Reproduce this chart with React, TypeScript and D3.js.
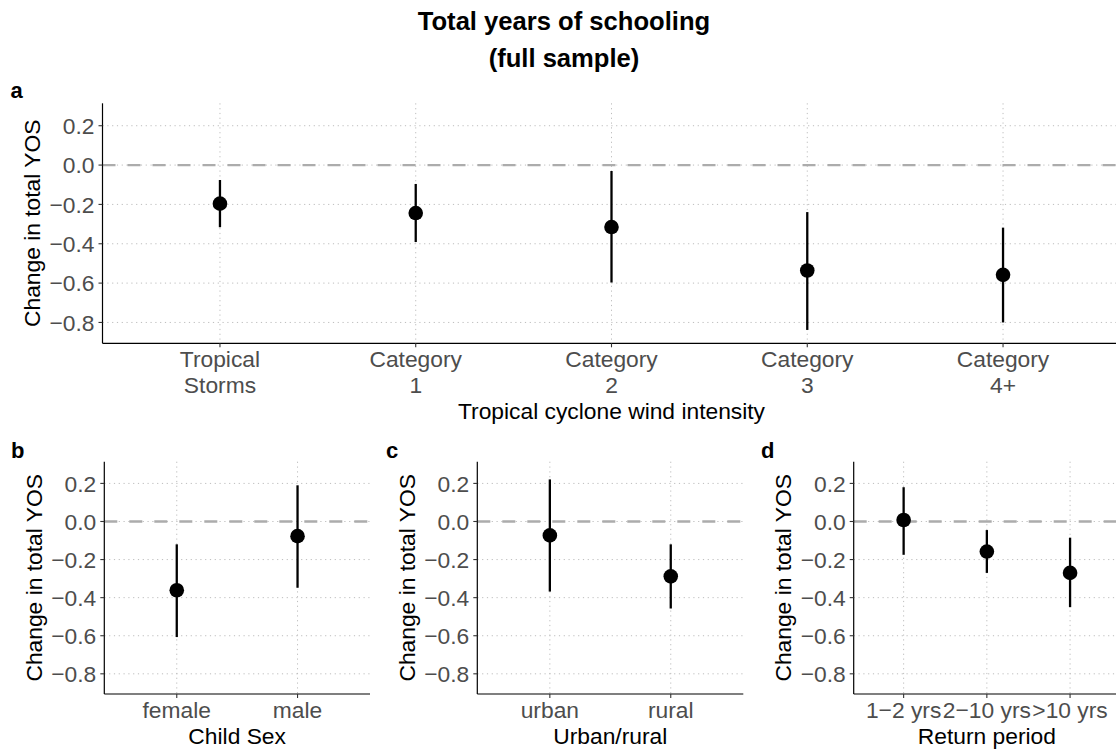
import React from "react";
import * as d3 from "d3";

// ---------- data ----------
const catsA = ["Tropical\nStorms", "Category\n1", "Category\n2", "Category\n3", "Category\n4+"];
const estA = [-0.196, -0.244, -0.315, -0.536, -0.558];
const loA = [-0.316, -0.391, -0.597, -0.838, -0.8];
const hiA = [-0.076, -0.096, -0.03, -0.239, -0.318];

const catsB = ["female", "male"];
const estB = [-0.361, -0.077];
const loB = [-0.607, -0.348];
const hiB = [-0.12, 0.19];

const catsC = ["urban", "rural"];
const estC = [-0.073, -0.288];
const loC = [-0.368, -0.457];
const hiC = [0.221, -0.12];

const catsD = ["1−2 yrs", "2−10 yrs", ">10 yrs"];
const estD = [0.008, -0.158, -0.27];
const loD = [-0.175, -0.27, -0.45];
const hiD = [0.18, -0.045, -0.085];

const yTicks = [0.2, 0, -0.2, -0.4, -0.6, -0.8];
const yDomain: [number, number] = [-0.906, 0.314];

const FONT = "'Liberation Sans', Arial, Helvetica, sans-serif";
const FS = 22.8;
const fmt = d3.format(".1f");

type PanelProps = {
  label: string;
  labelX: number;
  labelY: number;
  left: number;
  right: number;
  top: number;
  bottom: number;
  cats: string[];
  est: number[];
  lo: number[];
  hi: number[];
  xTitle: string;
};

function Panel(p: PanelProps) {
  const x = d3.scalePoint<string>().domain(p.cats).range([p.left, p.right]).padding(0.6);
  const y = d3.scaleLinear().domain(yDomain).range([p.bottom, p.top]);
  const lineGap = 25.8;
  const tickBase = p.bottom + 23.5;
  const maxLines = d3.max(p.cats, (c) => c.split("\n").length) || 1;
  const titleBase = tickBase + (maxLines - 1) * lineGap + 26;
  const midY = (p.top + p.bottom) / 2;
  const midX = (p.left + p.right) / 2;
  return (
    <g>
      <text x={p.labelX} y={p.labelY} fontFamily={FONT} fontWeight="bold" fontSize={22} fill="#000">
        {p.label}
      </text>
      {/* grid */}
      {yTicks.map((t) => (
        <line key={"gy" + t} x1={p.left} x2={p.right} y1={y(t)} y2={y(t)} stroke="#bdbdbd" strokeWidth={1} strokeDasharray="1.2 3.6" />
      ))}
      {p.cats.map((c) => (
        <line key={"gx" + c} x1={x(c)} x2={x(c)} y1={p.top} y2={p.bottom} stroke="#bdbdbd" strokeWidth={1} strokeDasharray="1.2 3.6" />
      ))}
      {/* zero line */}
      <line x1={p.left} x2={p.right} y1={y(0)} y2={y(0)} stroke="#acacac" strokeWidth={2.3} strokeDasharray="13 12" />
      {/* error bars and points */}
      {p.cats.map((c, i) => (
        <g key={"m" + c}>
          <line x1={x(c)} x2={x(c)} y1={y(p.lo[i])} y2={y(p.hi[i])} stroke="#000" strokeWidth={2.3} />
          <circle cx={x(c)} cy={y(p.est[i])} r={7.3} fill="#000" />
        </g>
      ))}
      {/* axes */}
      <line x1={p.left} x2={p.left} y1={p.top} y2={p.bottom} stroke="#000" strokeWidth={1.2} />
      <line x1={p.left} x2={p.right} y1={p.bottom} y2={p.bottom} stroke="#000" strokeWidth={1.2} />
      {yTicks.map((t) => (
        <g key={"ty" + t}>
          <line x1={p.left - 4} x2={p.left} y1={y(t)} y2={y(t)} stroke="#333" strokeWidth={1.1} />
          <text x={p.left - 8} y={y(t)} dy="0.36em" textAnchor="end" fontFamily={FONT} fontSize={FS} fill="#4d4d4d">
            {fmt(t)}
          </text>
        </g>
      ))}
      {p.cats.map((c) => (
        <g key={"tx" + c}>
          <line x1={x(c)} x2={x(c)} y1={p.bottom} y2={p.bottom + 4} stroke="#333" strokeWidth={1.1} />
          <text x={x(c)} y={tickBase} textAnchor="middle" fontFamily={FONT} fontSize={FS} fill="#4d4d4d">
            {c.split("\n").map((ln, k) => (
              <tspan key={k} x={x(c)} y={tickBase + k * lineGap}>
                {ln}
              </tspan>
            ))}
          </text>
        </g>
      ))}
      <text x={midX} y={titleBase} textAnchor="middle" fontFamily={FONT} fontSize={FS} fill="#000">
        {p.xTitle}
      </text>
      <text
        transform={`translate(${p.left - 62.5},${midY}) rotate(-90)`}
        textAnchor="middle"
        fontFamily={FONT}
        fontSize={FS}
        fill="#000"
      >
        Change in total YOS
      </text>
    </g>
  );
}

export default function App() {
  const W = 1116;
  const H = 751;
  return (
    <svg width={W} height={H} style={{ position: "absolute", left: 0, top: 0, background: "#fff" }}>
      <rect width={W} height={H} fill="#fff" />
      <text x={564} y={30} textAnchor="middle" fontFamily={FONT} fontWeight="bold" fontSize={25.6} fill="#000">
        Total years of schooling
      </text>
      <text x={564} y={66.5} textAnchor="middle" fontFamily={FONT} fontWeight="bold" fontSize={25.6} fill="#000">
        (full sample)
      </text>
      <Panel label="a" labelX={10.5} labelY={98} left={102.5} right={1120.5} top={103.3} bottom={343.3}
        cats={catsA} est={estA} lo={loA} hi={hiA} xTitle="Tropical cyclone wind intensity" />
      <Panel label="b" labelX={11} labelY={457.5} left={104.3} right={370} top={461.7} bottom={694}
        cats={catsB} est={estB} lo={loB} hi={hiB} xTitle="Child Sex" />
      <Panel label="c" labelX={386} labelY={457.5} left={477.3} right={743.3} top={461.7} bottom={694}
        cats={catsC} est={estC} lo={loC} hi={hiC} xTitle="Urban/rural" />
      <Panel label="d" labelX={761} labelY={457.5} left={853.7} right={1120} top={461.7} bottom={694}
        cats={catsD} est={estD} lo={loD} hi={hiD} xTitle="Return period" />
    </svg>
  );
}
